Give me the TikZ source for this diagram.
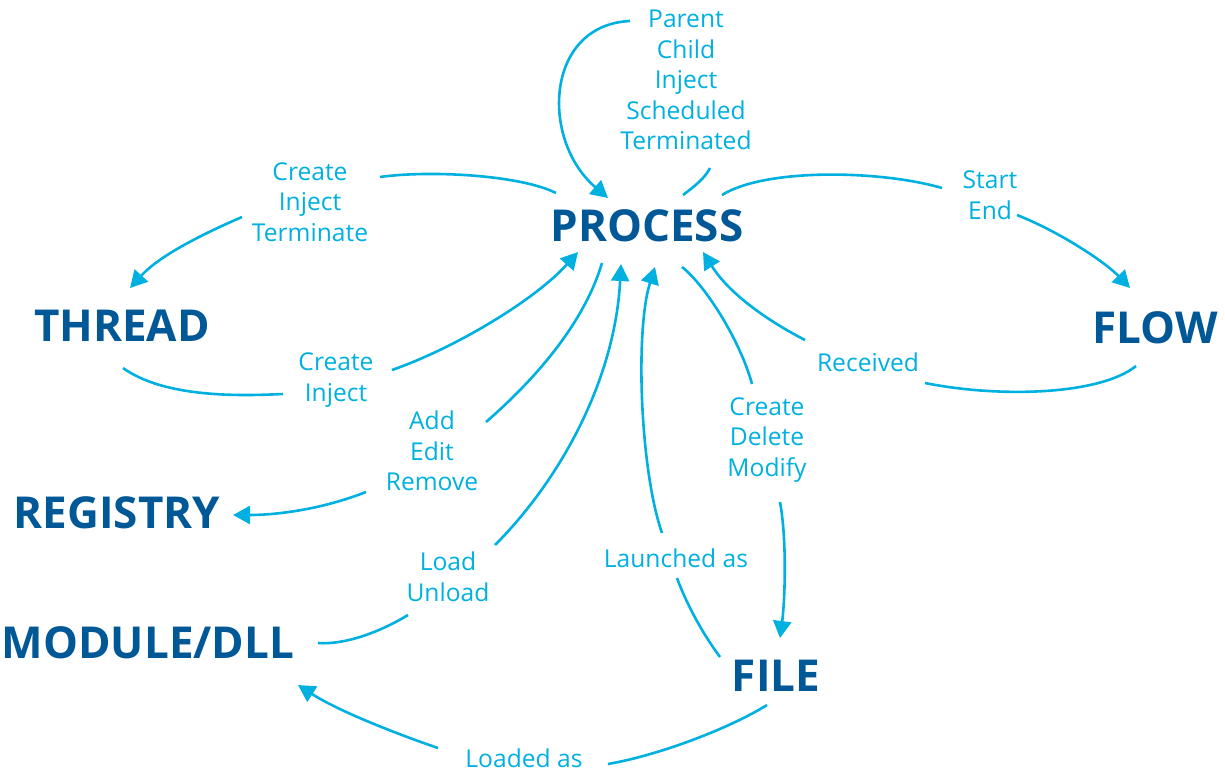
\documentclass[tikz,border=0pt]{standalone}
\usepackage{fontspec}
\setmainfont{Open Sans}
\usetikzlibrary{arrows.meta,calc}
\definecolor{titleblue}{RGB}{0,88,150}
\definecolor{lightblue}{RGB}{0,176,224}
\begin{document}
\begin{tikzpicture}[x=0.5pt,y=0.5pt,
  title/.style={text=titleblue,font=\fontsize{22}{25}\selectfont\bfseries,inner sep=0pt},
  lab/.style={text=lightblue,font=\fontsize{12.3}{15.25}\selectfont,align=center,inner sep=0pt},
  ln/.style={draw=lightblue,line width=1.3pt},
  arr/.style={ln,-{Triangle[length=8.5pt,width=9pt]}}]
\useasboundingbox (0,0) rectangle (1225,-771);
% main nodes
\node[title] (process) at (647,-226) {PROCESS};
\node[title] (thread) at (122,-326) {THREAD};
\node[title] (flow) at (1155,-328) {FLOW};
\node[title] (registry) at (117,-513) {REGISTRY};
\node[title] (module) at (148,-643) {MODULE/DLL};
\node[title] (file) at (776,-676) {FILE};
% labels
\node[lab] (lab1) at (686,-80) {Parent\\Child\\Inject\\Scheduled\\Terminated};
\node[lab] (lab2) at (310,-202) {Create\\Inject\\Terminate};
\node[lab] (lab3) at (990,-195) {Start\\End};
\node[lab] (lab4) at (336,-380) {Create\\Inject};
\node[lab] (lab5) at (868,-362) {Received};
\node[lab] (lab6) at (432,-451) {Add\\Edit\\Remove};
\node[lab] (lab7) at (767,-440) {Create\\Delete\\Modify};
\node[lab] (lab8) at (448,-577) {Load\\Unload};
\node[lab] (lab9) at (676,-558) {Launched as};
\node[lab] (lab10) at (524,-758) {Loaded as};
% C1 self loop
\draw[ln] ($(process)+(36,31)$) .. controls (695,-186) and (705,-178) .. ($(lab1)+(24,-88)$);
\draw[arr] ($(lab1)+(-56,59)$) .. controls (545,-25) and (540,-140) .. ($(process)+(-39,28)$);
% C2 process -> thread
\draw[ln] ($(process)+(-91,33)$) .. controls (520,-175) and (430,-170) .. ($(lab2)+(70,25)$);
\draw[arr] ($(lab2)+(-68,-15)$) .. controls (205,-233) and (160,-255) .. ($(thread)+(8,38)$);
% C3 thread -> process
\draw[ln] ($(thread)+(1,-42)$) .. controls (165,-398) and (240,-396) .. ($(lab4)+(-53,-14)$);
\draw[arr] ($(lab4)+(56,10)$) .. controls (455,-348) and (535,-300) .. ($(process)+(-69,-26)$);
% C4 process -> flow
\draw[ln] ($(process)+(75,31)$) .. controls (765,-168) and (880,-170) .. ($(lab3)+(-48,7)$);
\draw[arr] ($(lab3)+(27,-20)$) .. controls (1060,-232) and (1105,-262) .. ($(flow)+(-25,40)$);
% C5 flow -> process
\draw[ln] ($(flow)+(-19,-38)$) .. controls (1100,-395) and (1000,-398) .. ($(lab5)+(57,-21)$);
\draw[arr] ($(lab5)+(-63,22)$) .. controls (770,-322) and (730,-295) .. ($(process)+(56,-26)$);
% C6 process -> registry
\draw[ln] ($(process)+(-45,-37)$) .. controls (585,-320) and (540,-375) .. ($(lab6)+(54,29)$);
\draw[arr] ($(lab6)+(-66,-41)$) .. controls (320,-510) and (275,-515) .. ($(registry)+(116,-2)$);
% C7 module -> process
\draw[ln] ($(module)+(170,0)$) .. controls (345,-645) and (380,-632) .. ($(lab8)+(-40,-38)$);
\draw[arr] ($(lab8)+(47,32)$) .. controls (560,-480) and (615,-380) .. ($(process)+(-26,-38)$);
% C8 file -> process
\draw[ln] ($(file)+(-56,19)$) .. controls (700,-630) and (685,-600) .. ($(lab9)+(1,-20)$);
\draw[arr] ($(lab9)+(-14,25)$) .. controls (640,-470) and (635,-330) .. ($(process)+(8,-41)$);
% C9 process -> file
\draw[ln] ($(process)+(35,-41)$) .. controls (705,-285) and (740,-340) .. ($(lab7)+(-15,56)$);
\draw[arr] ($(lab7)+(13,-62)$) .. controls (787,-540) and (785,-600) .. ($(file)+(4,38)$);
% C10 file -> module
\draw[ln] ($(file)+(-9,-29)$) .. controls (730,-728) and (660,-755) .. ($(lab10)+(84,-6)$);
\draw[arr] ($(lab10)+(-86,10)$) .. controls (400,-735) and (340,-712) .. ($(module)+(150,-42)$);
\end{tikzpicture}
\end{document}
